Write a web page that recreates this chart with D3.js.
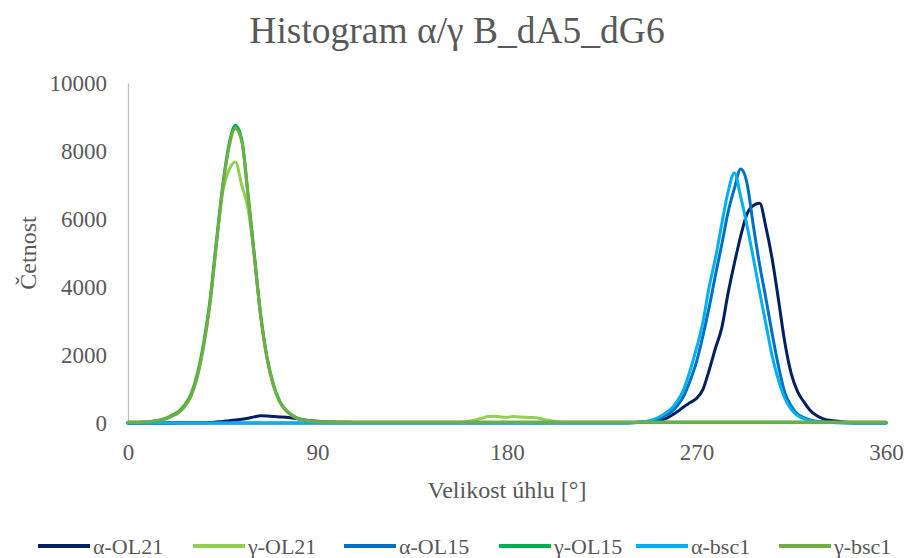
<!DOCTYPE html>
<html>
<head>
<meta charset="utf-8">
<script src="https://cdn.jsdelivr.net/npm/d3@7"></script>
<style>
  html, body { margin: 0; padding: 0; background: #ffffff; }
  svg { display: block; }
  text { font-family: "Liberation Serif", "Times New Roman", serif; fill: #595959; }
</style>
</head>
<body>
<svg id="chart" width="911" height="558"></svg>
<script>
// ---- DATA ----
const angles = [
  0,3,6,9,12,15,18,21,24,27,
  30,33,36,39,42,45,48,51,54,57,
  60,63,66,69,72,75,78,81,84,87,
  90,93,96,99,102,105,108,111,114,117,
  120,123,126,129,132,135,138,141,144,147,
  150,153,156,159,162,165,168,171,174,177,
  180,183,186,189,192,195,198,201,204,207,
  210,213,216,219,222,225,228,231,234,237,
  240,243,246,249,252,255,258,261,264,267,
  270,273,276,279,282,285,288,291,294,297,
  300,303,306,309,312,315,318,321,324,327,
  330,333,336,339,342,345,348,351,354,357,
  360];

const alphaOL21 = [
  0,0,0,0,0,0,0,0,5,5,
  5,10,10,15,30,45,70,85,110,140,
  180,210,205,190,180,170,150,120,90,65,
  50,40,30,25,20,20,15,15,15,15,
  15,15,15,15,15,15,15,15,15,15,
  15,15,15,15,15,15,15,15,15,15,
  15,15,15,15,15,15,15,15,15,15,
  15,15,15,15,15,15,15,15,15,15,
  15,20,30,45,70,120,220,340,480,600,
  720,980,1550,2200,2800,3820,4700,5500,6150,6400,
  6460,5750,4800,3600,2350,1450,920,620,370,220,
  130,80,60,40,20,10,5,5,5,5,
  5];

const gammaOL21 = [
  20,20,25,35,55,90,150,240,350,550,
  880,1480,2400,3650,5300,6800,7450,7680,7000,6300,
  4900,3150,1900,1100,620,360,210,120,75,50,
  35,30,25,25,20,20,20,20,20,20,
  20,20,20,20,20,20,20,25,25,25,
  25,25,25,30,50,90,140,190,200,180,
  170,190,175,170,160,140,100,70,40,25,
  20,20,20,20,20,20,20,20,20,20,
  20,20,20,20,20,20,20,20,20,20,
  20,20,20,20,20,20,20,20,20,20,
  20,20,20,20,20,20,20,20,20,20,
  20,20,20,20,20,20,20,20,20,20,
  20];

const alphaOL15 = [
  0,0,0,0,0,0,0,0,0,0,
  0,0,0,0,0,0,0,0,0,0,
  0,0,0,0,0,0,0,0,0,0,
  0,0,0,0,0,0,0,0,0,0,
  0,0,0,0,0,0,0,0,0,0,
  0,0,0,0,0,0,0,0,0,0,
  0,0,0,0,0,0,0,0,0,0,
  0,0,0,0,0,0,0,0,0,0,
  10,20,35,60,120,220,330,520,800,1250,
  1800,2550,3400,4350,5250,6200,6900,7470,7050,5800,
  4650,3650,2600,1650,880,500,260,160,90,50,
  30,20,15,10,5,0,0,0,0,0,
  0];

const gammaOL15 = [
  20,20,25,30,50,80,130,220,320,520,
  830,1420,2350,3600,5350,7000,8200,8760,8350,6750,
  4950,3200,1950,1150,650,380,230,130,80,50,
  35,25,20,20,20,20,20,20,20,20,
  20,20,20,20,20,20,20,20,20,20,
  20,20,20,20,20,20,20,20,20,20,
  20,20,20,20,20,20,20,20,20,20,
  20,20,20,20,20,20,20,20,20,20,
  20,20,20,20,20,20,20,20,20,20,
  20,20,20,20,20,20,20,20,20,20,
  20,20,20,20,20,20,20,20,20,20,
  20,20,20,20,20,20,20,20,20,20,
  20];

const alphaBsc1 = [
  0,0,0,0,0,0,0,0,0,0,
  0,0,0,0,0,0,0,0,0,0,
  0,0,0,0,0,0,0,0,0,0,
  0,0,0,0,0,0,0,0,0,0,
  0,0,0,0,0,0,0,0,0,0,
  0,0,0,0,0,0,0,0,0,0,
  0,0,0,0,0,0,0,0,0,0,
  0,0,0,0,0,0,0,0,0,0,
  10,25,45,90,170,280,420,650,1000,1550,
  2200,2950,4000,4850,5850,6800,7350,6650,5800,4850,
  3850,2900,1950,1250,720,400,220,130,70,40,
  25,15,10,5,0,0,0,0,0,0,
  0];

const gammaBsc1 = [
  25,25,30,40,55,80,120,200,300,490,
  800,1370,2280,3520,5250,6920,8120,8660,8280,6680,
  4880,3150,1920,1130,640,370,220,130,80,55,
  40,30,25,25,25,25,25,25,25,25,
  25,25,25,25,25,25,25,25,25,25,
  25,25,25,25,25,25,25,25,25,25,
  25,25,25,25,25,25,25,25,25,25,
  25,25,25,25,25,25,25,25,25,25,
  25,25,25,25,25,25,25,25,25,25,
  25,25,25,25,25,25,25,25,25,25,
  25,25,25,25,25,25,25,25,25,25,
  25,25,25,25,25,25,25,25,25,25,
  25];

const seriesNames = ["α-OL21", "γ-OL21", "α-OL15", "γ-OL15", "α-bsc1", "γ-bsc1"];
const seriesValues = [alphaOL21, gammaOL21, alphaOL15, gammaOL15, alphaBsc1, gammaBsc1];
const seriesColors = ["#002060", "#92D050", "#0070C0", "#00B050", "#00B0F0", "#70AD47"];
const xTicks = [0, 90, 180, 270, 360];
const yTicks = [0, 2000, 4000, 6000, 8000, 10000];
const titleText = "Histogram α/γ B_dA5_dG6";
const xTitle = "Velikost úhlu [°]";
const yTitle = "Četnost";

// ---- LAYOUT ----
const svg = d3.select("#chart");
const plot = { left: 128, right: 886, top: 83, bottom: 423 };

const x = d3.scaleLinear().domain([0, 360]).range([plot.left, plot.right]);
const y = d3.scaleLinear().domain([0, 10000]).range([plot.bottom, plot.top]);

// title
svg.append("text")
  .attr("x", 457).attr("y", 43)
  .attr("text-anchor", "middle")
  .style("font-size", "37.5px")
  .text(titleText);

// y axis
const yAxis = svg.append("g")
  .attr("transform", `translate(${plot.left},0)`)
  .call(d3.axisLeft(y).tickValues(yTicks).tickSize(0).tickPadding(21).tickFormat(d3.format("d")));
yAxis.select(".domain").attr("stroke", "#bfbfbf").attr("stroke-width", 1.3);
yAxis.selectAll("text").style("font-size", "23px").attr("fill", "#595959")
  .style("font-family", '"Liberation Serif", "Times New Roman", serif');

// x axis
const xAxis = svg.append("g")
  .attr("transform", `translate(0,${plot.bottom})`)
  .call(d3.axisBottom(x).tickValues(xTicks).tickSize(0).tickPadding(21).tickFormat(d3.format("d")));
xAxis.select(".domain").attr("stroke", "#d9d9d9").attr("stroke-width", 1.3);
xAxis.selectAll("text").style("font-size", "23px").attr("fill", "#595959")
  .style("font-family", '"Liberation Serif", "Times New Roman", serif');

// axis titles
svg.append("text")
  .attr("x", x(180)).attr("y", 498)
  .attr("text-anchor", "middle")
  .style("font-size", "24px")
  .text(xTitle);

svg.append("text")
  .attr("transform", `translate(36,${(plot.top + plot.bottom) / 2}) rotate(-90)`)
  .attr("text-anchor", "middle")
  .style("font-size", "24px")
  .text(yTitle);

// lines
const line = d3.line()
  .x((d, i) => x(angles[i]))
  .y(d => y(d))
  .curve(d3.curveMonotoneX);

svg.append("g").selectAll("path")
  .data(seriesValues)
  .join("path")
  .attr("d", d => line(d))
  .attr("fill", "none")
  .attr("stroke", (d, i) => seriesColors[i])
  .attr("stroke-width", 3)
  .attr("stroke-linejoin", "round")
  .attr("stroke-linecap", "round");

// legend
const legendItems = [38, 193, 344, 499, 636, 779];
const legend = svg.append("g");
seriesNames.forEach((name, i) => {
  const lx = legendItems[i];
  legend.append("line")
    .attr("x1", lx).attr("x2", lx + 52)
    .attr("y1", 546).attr("y2", 546)
    .attr("stroke", seriesColors[i])
    .attr("stroke-width", 4);
  legend.append("text")
    .attr("x", lx + 55).attr("y", 554)
    .style("font-size", "22px")
    .text(name);
});
</script>
</body>
</html>
